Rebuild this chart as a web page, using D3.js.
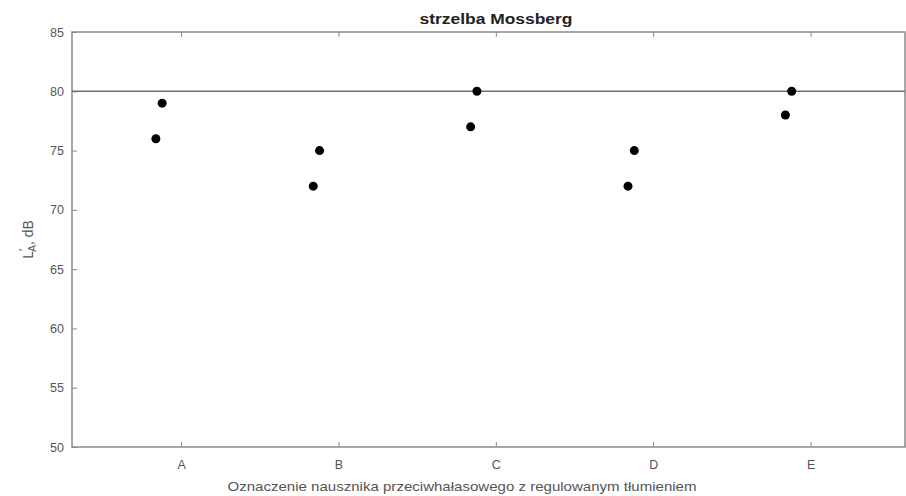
<!DOCTYPE html>
<html>
<head>
<meta charset="utf-8">
<script src="https://cdn.jsdelivr.net/npm/d3@7"></script>
<style>
	body { margin: 0; background: #fff; }
	svg { font-family: "Liberation Sans", Arial, sans-serif; }
	.tick text { fill: #555; font-size: 12.5px; }
</style>
</head>
<body>
<div id="chart"></div>
<script>
// categories and measured values (dB)
const categories = ['A', 'B', 'C', 'D', 'E'];
const lowerValues = [76, 72, 77, 72, 78];
const upperValues = [79, 75, 80, 75, 80];
// x shift of each series from its category, in category units
const lowerShift = -0.16;
const upperShift = -0.12;
const yTicks = [50, 55, 60, 65, 70, 75, 80, 85];
const limitLevel = 80;

const width = 906, height = 496;
const margin = { top: 32, right: 1, bottom: 49, left: 72 };

const svg = d3.select('#chart').append('svg')
	.attr('width', width)
	.attr('height', height);

const x = d3.scaleLinear()
	.domain([0.307, 5.6])
	.range([margin.left, width - margin.right]);

const y = d3.scaleLinear()
	.domain([50, 85])
	.range([height - margin.bottom, margin.top]);

const axisColor = '#8a8a8a';

// box
svg.append('rect')
	.attr('x', x.range()[0])
	.attr('y', y.range()[1])
	.attr('width', x.range()[1] - x.range()[0])
	.attr('height', y.range()[0] - y.range()[1])
	.attr('fill', 'none')
	.attr('stroke', axisColor)
	.attr('stroke-width', 1.5);

// bottom axis
const xAxis = svg.append('g')
	.attr('transform', `translate(0,${y.range()[0]})`)
	.call(d3.axisBottom(x)
		.tickValues(categories.map((c, i) => i + 1))
		.tickFormat((d, i) => categories[i])
		.tickSizeInner(-5).tickSizeOuter(0).tickPadding(13));
// top ticks
const xTop = svg.append('g')
	.attr('transform', `translate(0,${y.range()[1]})`)
	.call(d3.axisTop(x)
		.tickValues(categories.map((c, i) => i + 1))
		.tickFormat('')
		.tickSizeInner(-5).tickSizeOuter(0));

// left axis
const yAxis = svg.append('g')
	.attr('transform', `translate(${x.range()[0]},0)`)
	.call(d3.axisLeft(y)
		.tickValues(yTicks)
		.tickSizeInner(-5).tickSizeOuter(0).tickPadding(8));

[xAxis, xTop, yAxis].forEach(g => {
	g.select('.domain').remove();
	g.selectAll('.tick line').attr('stroke', axisColor);
});

// limit line
svg.append('line')
	.attr('x1', x.range()[0])
	.attr('x2', x.range()[1])
	.attr('y1', y(limitLevel))
	.attr('y2', y(limitLevel))
	.attr('stroke', '#6e6e6e')
	.attr('stroke-width', 1.6);

// points
const points = [];
categories.forEach((c, i) => {
	points.push({ x: i + 1 + lowerShift, v: lowerValues[i] });
	points.push({ x: i + 1 + upperShift, v: upperValues[i] });
});
svg.append('g').selectAll('circle')
	.data(points)
	.join('circle')
	.attr('cx', d => x(d.x))
	.attr('cy', d => y(d.v))
	.attr('r', 4.5)
	.attr('fill', '#000');

// title (the source picture is stretched wide, so fit the text to its width)
svg.append('text')
	.attr('x', 496)
	.attr('y', 24)
	.attr('text-anchor', 'middle')
	.attr('font-size', 14)
	.attr('font-weight', 'bold')
	.attr('fill', '#222')
	.attr('textLength', 153)
	.attr('lengthAdjust', 'spacingAndGlyphs')
	.text('strzelba Mossberg');

// x label
svg.append('text')
	.attr('x', 462)
	.attr('y', 491)
	.attr('text-anchor', 'middle')
	.attr('font-size', 13.5)
	.attr('fill', '#555')
	.attr('textLength', 469)
	.attr('lengthAdjust', 'spacingAndGlyphs')
	.text('Oznaczenie nausznika przeciwhałasowego z regulowanym tłumieniem');

// y label
const yLabel = svg.append('text')
	.attr('transform', `translate(33,${(y.range()[0] + y.range()[1]) / 2}) rotate(-90)`)
	.attr('text-anchor', 'middle')
	.attr('font-size', 14)
	.attr('fill', '#555');
yLabel.append('tspan').text('L');
yLabel.append('tspan').attr('dy', -5).attr('font-size', 12).text('′');
yLabel.append('tspan').attr('dx', -3).attr('dy', 8).attr('font-size', 10).text('A');
yLabel.append('tspan').attr('dy', -3).text(', dB');
</script>
</body>
</html>
